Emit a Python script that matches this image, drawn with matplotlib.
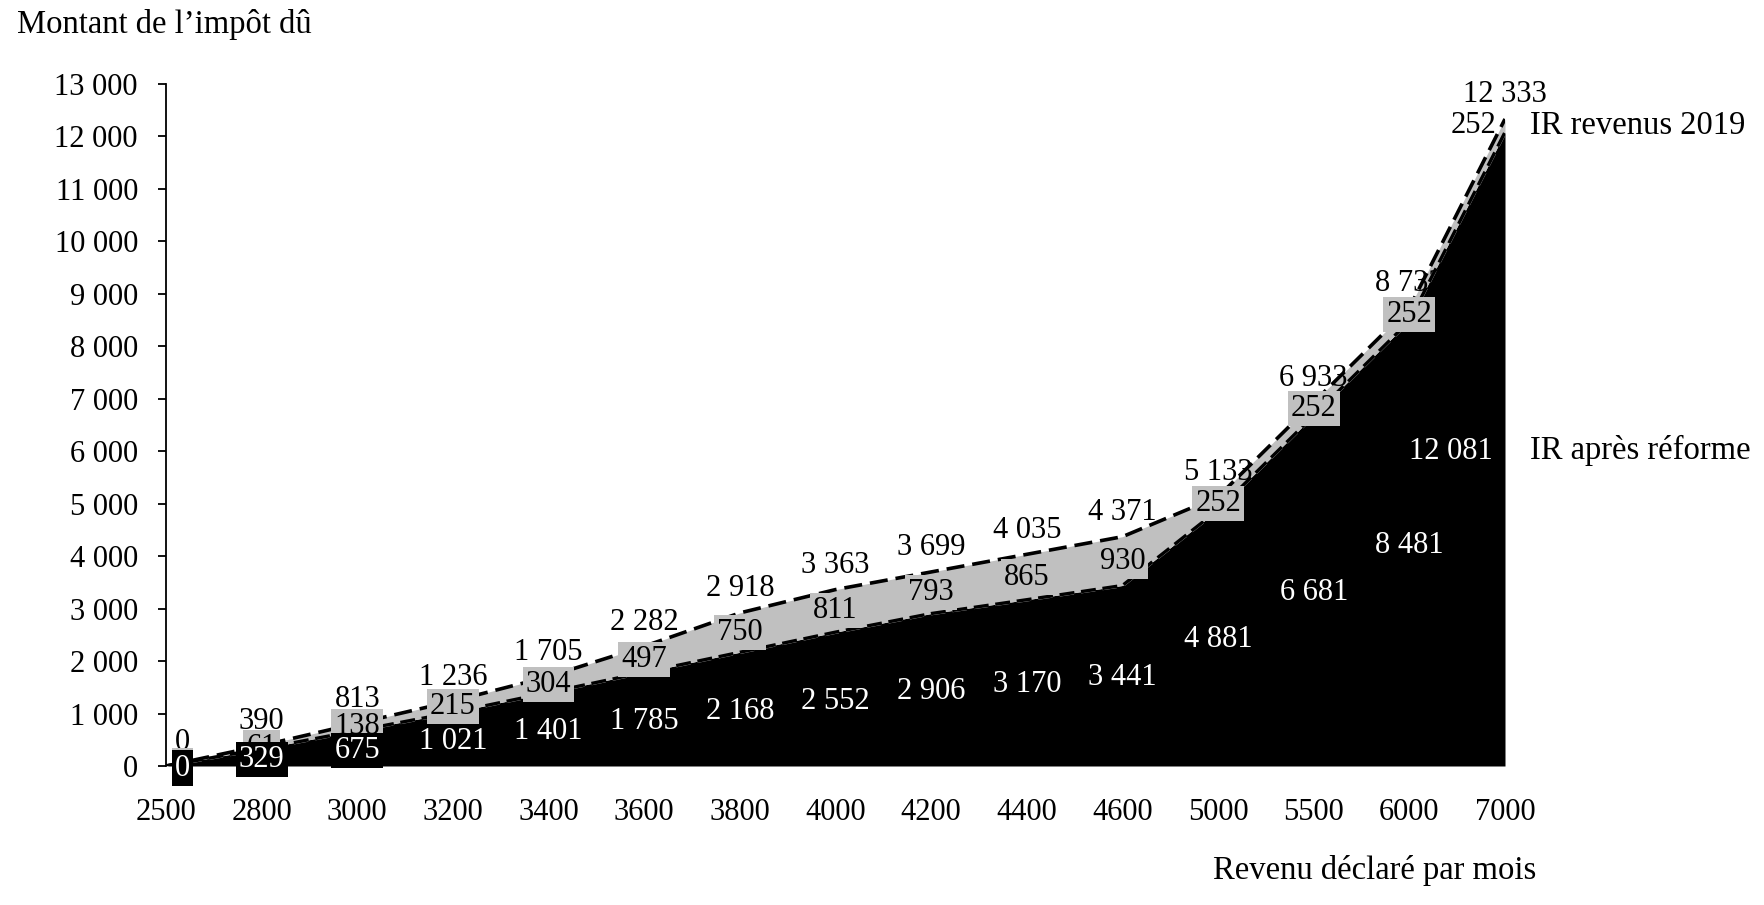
import matplotlib
matplotlib.use("Agg")
import matplotlib.pyplot as plt
import numpy as np

# ---------------- data ----------------
categories = ["2500", "2800", "3000", "3200", "3400", "3600", "3800", "4000",
              "4200", "4400", "4600", "5000", "5500", "6000", "7000"]
ir_revenus_2019 = [0, 390, 813, 1236, 1705, 2282, 2918, 3363, 3699, 4035,
                   4371, 5133, 6933, 8733, 12333]
ir_apres_reforme = [0, 329, 675, 1021, 1401, 1785, 2168, 2552, 2906, 3170,
                    3441, 4881, 6681, 8481, 12081]
gain = [0, 61, 138, 215, 304, 497, 750, 811, 793, 865, 930, 252, 252, 252, 252]
y_ticks = [0, 1000, 2000, 3000, 4000, 5000, 6000, 7000, 8000, 9000, 10000,
           11000, 12000, 13000]

title_text = "Montant de l\u2019impôt dû"
xlabel_text = "Revenu déclaré par mois"
series_top_name = "IR revenus 2019"
series_bottom_name = "IR après réforme"

plt.rcParams['font.family'] = ['Liberation Serif', 'DejaVu Serif']
FS = 22      # numbers
FSW = 23.5   # words
GREY = '#c0c0c0'
PX = 0.72  # points per pixel at 100 dpi


def fmt(v):
    return f"{v:,}".replace(",", "\u00a0")


W, H = 1764, 905
fig = plt.figure(figsize=(W / 100, H / 100), dpi=100)
ax = fig.add_axes([166 / W, (H - 766) / H, (1505 - 166) / W, (766 - 84) / H])

x = np.arange(len(categories))
base = np.array(ir_apres_reforme)
band = np.array(gain)
top = base + band

# areas and borders
ax.fill_between(x, 0, base, color='black', lw=0, zorder=1)
ax.plot(x, base, color=GREY, lw=2.6, dashes=(4, 2), zorder=1.5,
        dash_capstyle='butt')
ax.fill_between(x, base, top, color=GREY, lw=0, zorder=2)
ax.plot(x, base, color='black', lw=2.4, dashes=(4.5, 2.0), zorder=3,
        dash_capstyle='butt')
ax.plot(x, np.array(ir_revenus_2019), color='black', lw=2.6,
        dashes=(5.0, 2.2), zorder=3, dash_capstyle='butt')

n = len(x)
# top (IR 2019) labels above the line
for i, v in enumerate(ir_revenus_2019):
    ha, dx = 'center', 0
    if i == 0:
        ha, dx = 'left', 9
    ax.annotate(fmt(v), (x[i], v), xytext=(dx * PX, 24 * PX),
                textcoords='offset points', ha=ha, va='center',
                fontsize=FS, color='black', zorder=2.5, annotation_clip=False)

# gain labels (grey boxes) centred in the grey band
for i, g in enumerate(gain):
    yc = base[i] + g / 2
    if i == n - 1:
        ax.annotate(fmt(g), (x[i], yc), xytext=(-9 * PX, 0),
                    textcoords='offset points', ha='right', va='center',
                    fontsize=FS, color='black', zorder=4, annotation_clip=False)
        continue
    ha, dx = 'center', 0
    if i == 0:
        ha, dx = 'left', 9
    ax.annotate(fmt(g), (x[i], yc), xytext=(dx * PX, 0),
                textcoords='offset points', ha=ha, va='center',
                fontsize=FS, color='black', zorder=4, annotation_clip=False,
                bbox=dict(boxstyle='square,pad=0.1', fc=GREY, ec='none'))

# after-reform labels (white on black) centred in the black area
for i, v in enumerate(ir_apres_reforme):
    yc = v / 2
    ha, dx = 'center', 0
    if i == 0:
        ha, dx = 'left', 9
    if i == n - 1:
        ha, dx = 'right', -12
    ax.annotate(fmt(v), (x[i], yc), xytext=(dx * PX, -2 * PX),
                textcoords='offset points', ha=ha, va='center',
                fontsize=FS, color='white', zorder=5, annotation_clip=False,
                bbox=dict(boxstyle='square,pad=0.1', fc='black', ec='none'))

ax.set_xlim(0, n - 1)
ax.set_ylim(0, 13000)
ax.set_xticks(x)
ax.set_xticklabels(categories, fontsize=FS)
ax.set_yticks(y_ticks)
ax.set_yticklabels([fmt(t) for t in y_ticks], fontsize=FS)
for s in ['top', 'right', 'bottom']:
    ax.spines[s].set_visible(False)
ax.spines['left'].set_linewidth(1.3)
ax.spines['left'].set_zorder(6)
ax.tick_params(axis='y', direction='out', length=8 * PX, width=1.3,
               pad=20 * PX)
ax.tick_params(axis='x', length=0, pad=32 * PX)
ax.set_facecolor('none')

fig.text(17 / W, (H - 25) / H, title_text, fontsize=FSW, ha='left', va='center')
fig.text(1536 / W, (H - 870) / H, xlabel_text, fontsize=FSW, ha='right',
         va='center')
fig.text(1530 / W, (H - 126) / H, series_top_name, fontsize=FSW, ha='left',
         va='center')
fig.text(1530 / W, (H - 450) / H, series_bottom_name, fontsize=FSW, ha='left',
         va='center')

fig.savefig("out.png", dpi=100)
